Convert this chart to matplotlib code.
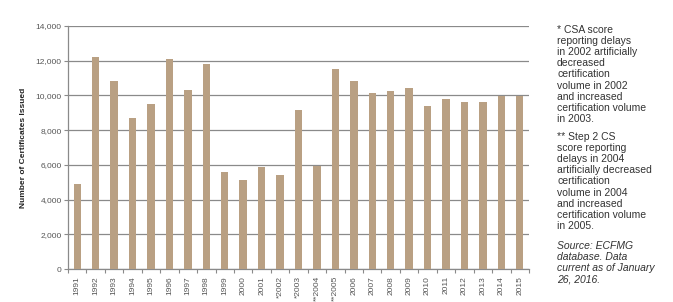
import matplotlib
matplotlib.use("Agg")
import matplotlib.pyplot as plt
import numpy as np

years = ['1991', '1992', '1993', '1994', '1995', '1996', '1997', '1998', '1999', '2000',
         '2001', '*2002', '*2003', '**2004', '**2005', '2006', '2007', '2008', '2009',
         '2010', '2011', '2012', '2013', '2014', '2015']
certificates = [4900, 12230, 10850, 8700, 9520, 12110, 10290, 11800, 5610, 5100,
                5900, 5410, 9180, 5950, 11550, 10810, 10165, 10270, 10400,
                9380, 9785, 9640, 9625, 9975, 9995]
y_ticks = [0, 2000, 4000, 6000, 8000, 10000, 12000, 14000]

note1 = ("* CSA score\nreporting delays\nin 2002 artificially\ndecreased\ncertification\n"
         "volume in 2002\nand increased\ncertification volume\nin 2003.")
note2 = ("** Step 2 CS\nscore reporting\ndelays in 2004\nartificially decreased\ncertification\n"
         "volume in 2004\nand increased\ncertification volume\nin 2005.")
note3 = "Source: ECFMG\ndatabase. Data\ncurrent as of January\n26, 2016."

plt.rcParams['font.family'] = ['Liberation Sans', 'DejaVu Sans']

fig = plt.figure(figsize=(6.73, 3.02), dpi=100)
ax = fig.add_axes([68/673, 1-269/302, (529-68)/673, (269-26)/302])

x = np.arange(len(years))
ax.bar(x, certificates, width=0.40, color='#B9A083', zorder=3)

ax.set_xlim(-0.5, len(years) - 0.5)
ax.set_ylim(0, 14000)
ax.set_yticks(y_ticks)
ax.set_yticklabels([f"{v:,}" for v in y_ticks], fontsize=6, color='#555555')
ax.yaxis.grid(True, color='#8a8a8a', linewidth=0.9, zorder=0)
ax.tick_params(axis='y', length=3, width=0.8, color='#8a8a8a', pad=1.5)

ax.set_xticks(x)
ax.set_xticklabels(years, rotation=90, fontsize=6, color='#555555')
ax.set_xticks(np.arange(len(years) + 1) - 0.5, minor=True)
ax.tick_params(axis='x', which='major', length=0, pad=5)
ax.tick_params(axis='x', which='minor', length=3, width=0.8, color='#8a8a8a', direction='out')

for s in ['top', 'right']:
    ax.spines[s].set_visible(False)
for s in ['left', 'bottom']:
    ax.spines[s].set_color('#8a8a8a')
    ax.spines[s].set_linewidth(0.9)

fig.text(24/673, 1-148/302, 'Number of Certificates Issued', rotation=90, fontsize=6,
         fontweight='bold', color='#222222', ha='center', va='center')

fig.text(557/673, 1-25/302, note1, fontsize=7.5, color='#333333', va='top', ha='left',
         linespacing=1.14)
fig.text(557/673, 1-132/302, note2, fontsize=7.5, color='#333333', va='top', ha='left',
         linespacing=1.14)
fig.text(557/673, 1-241/302, note3, fontsize=7.5, color='#333333', va='top', ha='left',
         linespacing=1.14, style='italic')

fig.savefig('out.png', dpi=100)
